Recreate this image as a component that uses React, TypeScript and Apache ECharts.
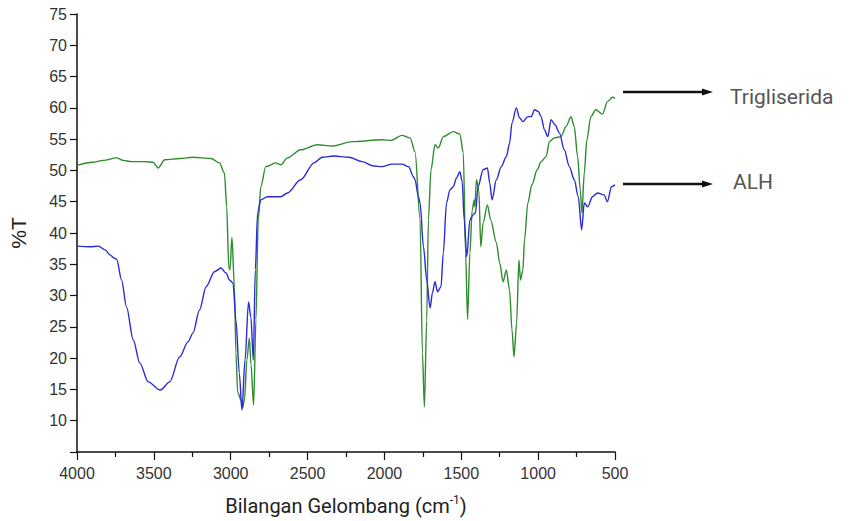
import React, { useEffect, useRef } from "react";
import * as echarts from "echarts";

// Trigliserida (green) – wavenumber (cm-1) and %T
const trigWn = [4000, 3900, 3828, 3742, 3700, 3645, 3560, 3505, 3472, 3429, 3330, 3246, 3128, 3073, 3041, 3026, 3013, 3005, 2992, 2976, 2966, 2955, 2933, 2922, 2910, 2895, 2879, 2868, 2851, 2836, 2821, 2804, 2772, 2707, 2674, 2631, 2545, 2437, 2340, 2210, 2016, 1956, 1887, 1833, 1801, 1768, 1753, 1740, 1725, 1714, 1697, 1671, 1649, 1617, 1552, 1509, 1487, 1472, 1459, 1444, 1429, 1416, 1412, 1401, 1386, 1373, 1358, 1330, 1309, 1272, 1250, 1228, 1207, 1186, 1170, 1157, 1140, 1125, 1115, 1099, 1089, 1067, 1041, 1006, 981, 948, 927, 895, 851, 819, 786, 765, 743, 726, 715, 700, 683, 657, 625, 581, 549, 516, 500];
const trigT = [50.8, 51.3, 51.6, 52.0, 51.6, 51.4, 51.4, 51.3, 50.4, 51.7, 51.9, 52.1, 51.9, 51.2, 49.6, 44.2, 34.6, 34.1, 39.3, 31.4, 20.8, 14.6, 13.3, 12.0, 13.5, 19.7, 23.2, 19.0, 12.5, 26.1, 42.1, 47.4, 50.6, 51.2, 50.9, 52.0, 53.3, 54.1, 53.9, 54.6, 54.9, 54.8, 55.6, 55.2, 53.0, 42.1, 20.8, 12.2, 26.1, 42.1, 50.1, 54.1, 53.6, 55.4, 56.2, 55.8, 52.8, 36.8, 26.2, 36.8, 43.7, 45.3, 44.2, 48.5, 46.9, 37.8, 41.6, 44.5, 42.1, 38.5, 35.2, 32.2, 34.1, 30.9, 24.5, 20.2, 25.6, 35.7, 32.5, 34.1, 38.9, 44.8, 47.7, 50.1, 51.4, 52.2, 54.6, 55.2, 55.4, 57.0, 58.6, 57.0, 52.2, 46.9, 43.2, 49.6, 54.9, 58.6, 59.7, 59.0, 61.0, 61.7, 61.5];

// ALH (blue)
const alhWn = [4000, 3915, 3861, 3817, 3785, 3759, 3742, 3710, 3678, 3634, 3591, 3537, 3458, 3397, 3332, 3278, 3246, 3203, 3160, 3106, 3063, 3030, 3008, 2985, 2966, 2944, 2927, 2907, 2884, 2869, 2853, 2840, 2825, 2804, 2761, 2674, 2631, 2545, 2458, 2405, 2329, 2231, 2146, 2070, 2016, 1951, 1887, 1843, 1811, 1801, 1779, 1768, 1746, 1725, 1703, 1688, 1671, 1654, 1632, 1617, 1596, 1574, 1552, 1531, 1509, 1494, 1481, 1464, 1444, 1423, 1408, 1391, 1358, 1330, 1315, 1300, 1272, 1240, 1207, 1186, 1170, 1142, 1121, 1099, 1067, 1045, 1024, 998, 981, 959, 937, 916, 890, 862, 830, 797, 765, 739, 717, 700, 678, 646, 614, 571, 549, 523, 500];
const alhT = [37.9, 37.8, 37.9, 37.3, 36.5, 36.0, 35.8, 32.5, 28.2, 22.9, 19.2, 16.2, 14.9, 16.2, 20.2, 22.6, 24.0, 27.7, 31.4, 33.8, 34.4, 33.6, 32.5, 32.0, 26.1, 17.6, 11.7, 19.7, 29.0, 26.6, 19.7, 34.1, 43.2, 45.3, 45.8, 45.8, 46.4, 48.5, 51.2, 52.1, 52.3, 52.1, 51.4, 50.7, 50.6, 51.0, 51.0, 50.6, 49.0, 48.5, 45.8, 44.8, 37.8, 32.5, 28.0, 30.4, 32.2, 30.6, 31.4, 36.8, 44.8, 46.9, 47.4, 48.8, 49.8, 48.2, 42.1, 36.2, 42.1, 42.9, 43.2, 47.4, 50.1, 50.4, 48.0, 45.3, 48.5, 50.6, 52.2, 54.3, 57.6, 60.0, 58.4, 57.8, 58.6, 58.6, 59.7, 59.4, 58.6, 56.5, 55.4, 58.1, 57.3, 56.0, 53.3, 50.6, 48.5, 45.8, 40.5, 44.8, 44.2, 45.8, 46.4, 46.1, 45.0, 47.4, 47.7];

const seriesNames = ["Trigliserida", "ALH"];
const xTicks = { min: 500, max: 4000, step: 500 };
const yTicks = { min: 5, max: 75, step: 5 };

export default function App() {
  const ref = useRef<HTMLDivElement>(null);
  useEffect(() => {
    document.body.style.margin = "0";
    if (!ref.current) return;
    const chart = echarts.init(ref.current, undefined, { renderer: "svg" });
    const zip = (a: number[], b: number[]) => a.map((v, i) => [v, b[i]]);
    const arrow = (y: number) => [
      { type: "line", shape: { x1: 623, y1: y, x2: 706, y2: y }, style: { stroke: "#111", lineWidth: 2.5 } },
      { type: "polygon", shape: { points: [[713, y], [702, y - 3.5], [702, y + 3.5]] }, style: { fill: "#111" } },
    ];
    chart.setOption({
      animation: false,
      backgroundColor: "#fff",
      grid: { left: 74, right: 235, top: 14, bottom: 69 },
      xAxis: {
        type: "value",
        inverse: true,
        min: xTicks.min,
        max: xTicks.max,
        interval: xTicks.step,
        name: "{a|Bilangan Gelombang (cm}{s|-1}{a|)}",
        nameLocation: "middle",
        nameGap: 42,
        nameTextStyle: {
          rich: {
            a: { fontFamily: "Roboto", fontSize: 20, color: "#222", lineHeight: 24 },
            s: { fontFamily: "Roboto", fontSize: 12, color: "#222", verticalAlign: "top", lineHeight: 24, padding: [0, 0, 9, 0] },
          },
        },
        axisLine: { lineStyle: { color: "#111", width: 1.5 } },
        axisTick: { length: 8, lineStyle: { color: "#111", width: 1.2 } },
        minorTick: { show: true, splitNumber: 2, length: 5, lineStyle: { color: "#111", width: 1.2 } },
        splitLine: { show: false },
        axisLabel: {
          margin: 13,
          fontFamily: "Liberation Sans",
          fontSize: 16,
          color: "#333",
          formatter: (v: number) => String(v),
        },
      },
      yAxis: {
        type: "value",
        min: yTicks.min,
        max: yTicks.max,
        interval: yTicks.step,
        name: "%T",
        nameLocation: "middle",
        nameGap: 48,
        nameTextStyle: { fontFamily: "Liberation Sans", fontSize: 21, color: "#222" },
        axisLine: { show: true, lineStyle: { color: "#111", width: 1.5 } },
        axisTick: { show: true, length: 7, lineStyle: { color: "#111", width: 1.2 } },
        splitLine: { show: false },
        axisLabel: {
          margin: 10,
          fontFamily: "Liberation Sans",
          fontSize: 16,
          color: "#333",
          formatter: (v: number) => (v === yTicks.min ? "" : String(v)),
        },
      },
      series: [
        {
          name: seriesNames[0],
          type: "line",
          data: zip(trigWn, trigT),
          showSymbol: false,
          symbol: "none",
          smooth: 0.3,
          smoothMonotone: "x",
          lineStyle: { color: "#2e8b2e", width: 1.4 },
        },
        {
          name: seriesNames[1],
          type: "line",
          data: zip(alhWn, alhT),
          showSymbol: false,
          symbol: "none",
          smooth: 0.3,
          smoothMonotone: "x",
          lineStyle: { color: "#2a2ad8", width: 1.4 },
        },
      ],
      graphic: [
        ...arrow(92),
        ...arrow(184),
        { type: "text", left: 730, top: 86, style: { text: seriesNames[0], fontFamily: "Roboto", fontSize: 21, fill: "#555" } },
        { type: "text", left: 733, top: 171, style: { text: seriesNames[1], fontFamily: "Roboto", fontSize: 21, fill: "#555" } },
      ],
    });
    return () => chart.dispose();
  }, []);
  return <div ref={ref} style={{ width: 850, height: 521 }} />;
}
